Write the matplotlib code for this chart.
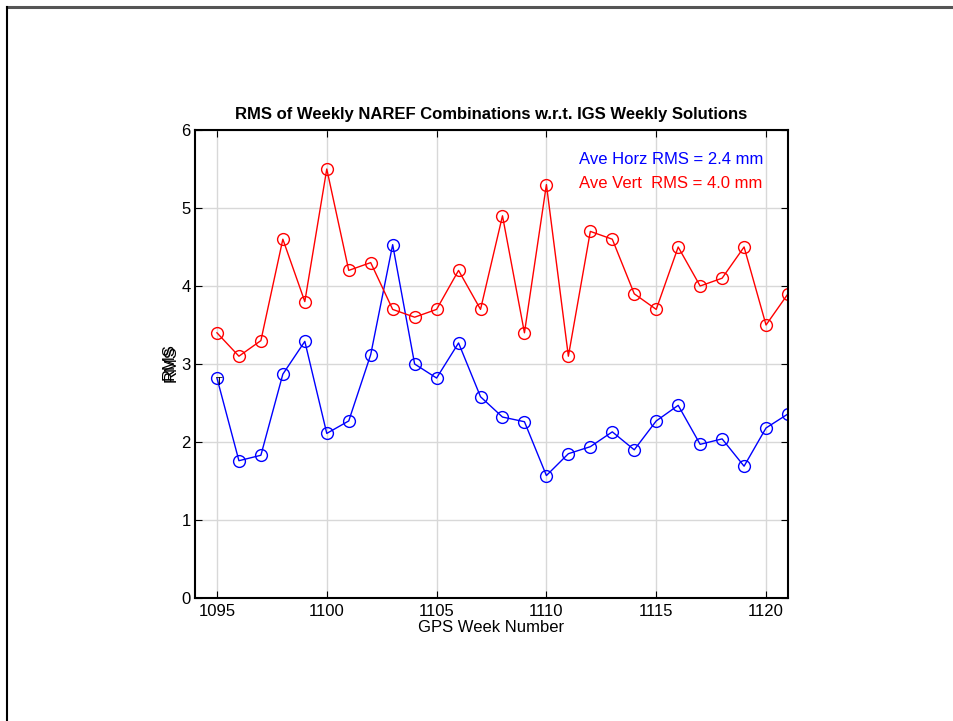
import matplotlib
matplotlib.use('Agg')
import matplotlib.pyplot as plt
from matplotlib.lines import Line2D

plt.rcParams['font.family'] = ['Liberation Sans', 'DejaVu Sans']

# GPS 周数
weeks = list(range(1095, 1122))

# 水平 RMS (mm)
horz_rms = [2.82, 1.76, 1.83, 2.87, 3.29, 2.11, 2.27, 3.12, 4.53, 3.00,
            2.82, 3.27, 2.58, 2.32, 2.26, 1.57, 1.85, 1.94, 2.13, 1.90,
            2.27, 2.47, 1.97, 2.04, 1.69, 2.18, 2.36]

# 垂直 RMS (mm)
vert_rms = [3.4, 3.1, 3.3, 4.6, 3.8, 5.5, 4.2, 4.3, 3.7, 3.6,
            3.7, 4.2, 3.7, 4.9, 3.4, 5.3, 3.1, 4.7, 4.6, 3.9,
            3.7, 4.5, 4.0, 4.1, 4.5, 3.5, 3.9]

ave_horz = 2.4
ave_vert = 4.0

fig = plt.figure(figsize=(9.54, 7.21), dpi=100)

# 外框（只露出上边和左边）
fig.add_artist(Line2D([7 / 954, 1.0], [1 - 7 / 721, 1 - 7 / 721], transform=fig.transFigure,
                      color='#555555', linewidth=2.2))
fig.add_artist(Line2D([7 / 954, 7 / 954], [0.0, 1 - 7 / 721], transform=fig.transFigure,
                      color='black', linewidth=1.5))

ax = fig.add_axes([195 / 954, 123 / 721, 593 / 954, 468 / 721])

ax.plot(weeks, horz_rms, color='blue', marker='o', markerfacecolor='none',
        markersize=8.5, linewidth=1.0, markeredgewidth=1.0)
ax.plot(weeks, vert_rms, color='red', marker='o', markerfacecolor='none',
        markersize=8.5, linewidth=1.0, markeredgewidth=1.0)

ax.set_xlim(1094, 1121)
ax.set_ylim(0, 6)
ax.set_xticks(range(1095, 1121, 5))
ax.set_yticks(range(0, 7))
ax.grid(True, color='#d8d8d8', linewidth=1.0)
ax.set_axisbelow(True)
ax.tick_params(direction='in', top=True, right=True, labelsize=12, length=5, pad=3)
ax.tick_params(axis='x', pad=4)
for s in ax.spines.values():
    s.set_linewidth(1.5)

ax.set_title('RMS of Weekly NAREF Combinations w.r.t. IGS Weekly Solutions',
             fontsize=12, fontweight='bold', pad=8)
ax.set_xlabel('GPS Week Number', fontsize=12, labelpad=1)
ax.set_ylabel('RMS', fontsize=12, labelpad=2)
# 重叠的 y 轴标签
ax.text(-0.044, 0.505, 'RMS', transform=ax.transAxes, rotation=90, fontsize=12,
        ha='center', va='center')

ax.text(1111.5, 5.62, f'Ave Horz RMS = {ave_horz:.1f} mm', color='blue', fontsize=12, va='center')
ax.text(1111.5, 5.32, f'Ave Vert  RMS = {ave_vert:.1f} mm', color='red', fontsize=12, va='center')
ax.text(1095.1, 2.77, 'T', fontsize=8, ha='center', va='center', color='black')

plt.savefig('out.png', dpi=100)
plt.close()
